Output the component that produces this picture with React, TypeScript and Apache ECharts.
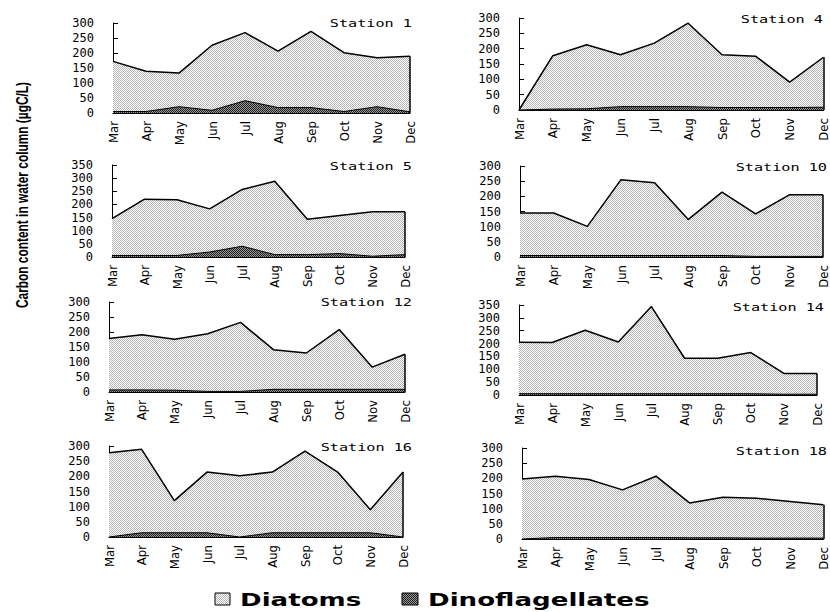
import React, { useEffect, useRef } from 'react';
import * as echarts from 'echarts';

const months = ['Mar', 'Apr', 'May', 'Jun', 'Jul', 'Aug', 'Sep', 'Oct', 'Nov', 'Dec'];
const stationNames = ['Station 1', 'Station 4', 'Station 5', 'Station 10', 'Station 12', 'Station 14', 'Station 16', 'Station 18'];
const yMaxes = [300, 300, 350, 300, 300, 350, 300, 300];

const diatomsSt1 = [172, 139, 133, 226, 268, 206, 272, 201, 184, 189];
const dinoSt1 = [5, 5, 21, 9, 41, 18, 18, 5, 21, 4];
const diatomsSt4 = [0, 177, 213, 180, 218, 283, 180, 175, 91, 172];
const dinoSt4 = [0, 3, 4, 11, 11, 11, 8, 8, 8, 9];
const diatomsSt5 = [146, 220, 218, 183, 257, 288, 144, 158, 172, 172];
const dinoSt5 = [6, 6, 6, 19, 41, 9, 9, 13, 3, 9];
const diatomsSt10 = [145, 145, 101, 255, 245, 124, 214, 142, 205, 205];
const dinoSt10 = [5, 5, 5, 5, 5, 5, 5, 2, 2, 2];
const diatomsSt12 = [178, 191, 176, 194, 232, 141, 130, 208, 83, 126];
const dinoSt12 = [7, 7, 6, 2, 2, 9, 9, 9, 9, 9];
const diatomsSt14 = [205, 204, 252, 206, 344, 143, 143, 165, 84, 84];
const dinoSt14 = [5, 5, 5, 5, 5, 5, 5, 5, 3, 3];
const diatomsSt16 = [278, 289, 120, 214, 202, 214, 283, 214, 90, 214];
const dinoSt16 = [0, 14, 14, 14, 0, 14, 14, 14, 14, 0];
const diatomsSt18 = [198, 207, 196, 162, 207, 119, 138, 134, 124, 113];
const dinoSt18 = [0, 5, 5, 5, 5, 4, 4, 3, 3, 3];

const diatomsAll = [diatomsSt1, diatomsSt4, diatomsSt5, diatomsSt10, diatomsSt12, diatomsSt14, diatomsSt16, diatomsSt18];
const dinoAll = [dinoSt1, dinoSt4, dinoSt5, dinoSt10, dinoSt12, dinoSt14, dinoSt16, dinoSt18];

// panel layout (pixels)
const panels = [
  { left: 113, top: 23, width: 297, height: 90, tx: 412, ty: 23 },
  { left: 519, top: 18, width: 306, height: 92, tx: 823, ty: 19 },
  { left: 112, top: 165, width: 293, height: 92, tx: 412, ty: 166 },
  { left: 520, top: 166, width: 303, height: 91, tx: 827, ty: 167 },
  { left: 109, top: 302, width: 296, height: 90, tx: 412, ty: 302 },
  { left: 519, top: 305, width: 298, height: 90, tx: 824, ty: 307 },
  { left: 109, top: 446, width: 294, height: 91, tx: 412, ty: 447 },
  { left: 522, top: 448, width: 311, height: 91, tx: 827, ty: 451 },
];

function makePattern(a: string, b: string) {
  const c = document.createElement('canvas');
  c.width = 4;
  c.height = 4;
  const ctx = c.getContext('2d')!;
  for (let y = 0; y < 4; y++) {
    for (let x = 0; x < 4; x++) {
      ctx.fillStyle = (x + y) % 2 === 0 ? a : b;
      ctx.fillRect(x, y, 1, 1);
    }
  }
  return { image: c, repeat: 'repeat', imageWidth: 4, imageHeight: 4 } as any;
}

export default function App() {
  const ref = useRef<HTMLDivElement>(null);
  useEffect(() => {
    if (!ref.current) return;
    const chart = echarts.init(ref.current, null, { renderer: 'svg' });
    const diatomFill = makePattern('#b4b4b4', '#ffffff');
    const dinoFill = makePattern('#1e1e1e', '#9a9a9a');
    const labelFont = "'Liberation Sans Narrow', 'DejaVu Sans Condensed', 'Liberation Sans', sans-serif";

    const grid: any[] = [];
    const xAxis: any[] = [];
    const yAxis: any[] = [];
    const series: any[] = [];
    const graphic: any[] = [];

    panels.forEach((p, i) => {
      grid.push({ left: p.left, top: p.top, width: p.width, height: p.height, containLabel: false });
      xAxis.push({
        type: 'category',
        gridIndex: i,
        data: months,
        boundaryGap: false,
        axisLine: { show: true, lineStyle: { color: '#000', width: 1 } },
        axisTick: { show: false },
        axisLabel: { rotate: 90, interval: 0, margin: 8, color: '#000', fontFamily: labelFont, fontSize: 13 },
        splitLine: { show: false },
      });
      yAxis.push({
        type: 'value',
        gridIndex: i,
        min: 0,
        max: yMaxes[i],
        interval: 50,
        axisLine: { show: true, lineStyle: { color: '#000', width: 1 } },
        axisTick: { show: true, inside: true, length: 5, lineStyle: { color: '#000' } },
        axisLabel: { margin: 19, color: '#000', fontFamily: "'DejaVu Sans Mono', monospace", fontSize: 12 },
        splitLine: { show: false },
      });
      const d = diatomsAll[i];
      series.push({
        type: 'line',
        name: 'Diatoms',
        xAxisIndex: i,
        yAxisIndex: i,
        data: d,
        symbol: 'none',
        color: '#000',
        lineStyle: { color: '#000', width: 1.5 },
        areaStyle: { color: diatomFill, opacity: 1 },
        z: 2,
        markLine: {
          silent: true,
          symbol: 'none',
          label: { show: false },
          lineStyle: { color: '#000', width: 1.5, type: 'solid' },
          data: [[{ coord: [months[months.length - 1], 0] }, { coord: [months[months.length - 1], d[d.length - 1]] }]],
        },
      });
      series.push({
        type: 'line',
        name: 'Dinoflagellates',
        xAxisIndex: i,
        yAxisIndex: i,
        data: dinoAll[i],
        symbol: 'none',
        color: '#000',
        lineStyle: { color: '#000', width: 1 },
        areaStyle: { color: dinoFill, opacity: 1 },
        z: 3,
      });
      graphic.push({
        type: 'text',
        x: p.tx,
        y: p.ty,
        scaleX: 1.38,
        z: 10,
        style: {
          text: stationNames[i],
          align: 'right',
          verticalAlign: 'middle',
          font: "11px 'DejaVu Sans Mono', monospace",
          fill: '#000',
        },
      });
    });

    graphic.push({
      type: 'text',
      x: 22,
      y: 195,
      rotation: Math.PI / 2,
      scaleX: 0.7,
      style: {
        text: 'Carbon content in water column (µgC/L)',
        align: 'center',
        verticalAlign: 'middle',
        font: "bold 17px 'Liberation Sans', Arial, sans-serif",
        fill: '#000',
      },
    });

    // legend
    graphic.push({
      type: 'rect',
      shape: { x: 215, y: 593, width: 15, height: 12 },
      style: { fill: diatomFill, stroke: '#000', lineWidth: 1 },
    });
    graphic.push({
      type: 'text',
      x: 240,
      y: 600,
      scaleX: 1.45,
      style: { text: 'Diatoms', align: 'left', verticalAlign: 'middle', font: "bold 18px 'DejaVu Sans', sans-serif", fill: '#000' },
    });
    graphic.push({
      type: 'rect',
      shape: { x: 402, y: 593, width: 16, height: 12 },
      style: { fill: dinoFill, stroke: '#000', lineWidth: 1 },
    });
    graphic.push({
      type: 'text',
      x: 428,
      y: 600,
      scaleX: 1.45,
      style: { text: 'Dinoflagellates', align: 'left', verticalAlign: 'middle', font: "bold 18px 'DejaVu Sans', sans-serif", fill: '#000' },
    });

    chart.setOption({
      animation: false,
      backgroundColor: '#fff',
      grid,
      xAxis,
      yAxis,
      series,
      graphic,
    });
    return () => chart.dispose();
  }, []);
  return (
    <div
      ref={ref}
      style={{ position: 'fixed', left: 0, top: 0, width: 830, height: 612, background: '#fff' }}
    />
  );
}
